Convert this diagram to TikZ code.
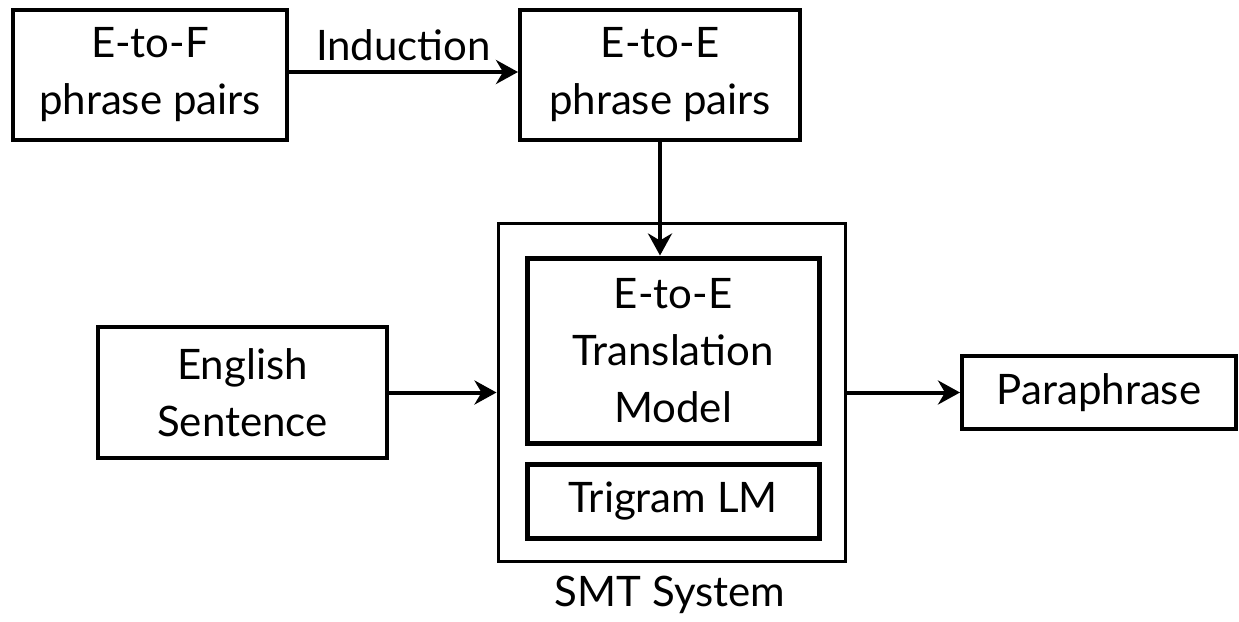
\documentclass[tikz,border=0pt]{standalone}
\usepackage{fontspec}
\setmainfont{Lato}
\usetikzlibrary{arrows.meta}
\begin{document}
\begin{tikzpicture}[x=1pt,y=-1pt,
  box/.style={draw, line width=4pt, inner sep=0pt, align=center,
    font=\fontsize{42}{57}\selectfont},
  lbl/.style={inner sep=0pt, font=\fontsize{42}{57}\selectfont},
  link/.style={line width=4pt, -{Stealth[length=22pt,width=24pt,inset=7pt]}}]
\useasboundingbox (0,0) rectangle (1239,621);
% top row: phrase tables
\node[box, minimum width=274pt, minimum height=130pt] (efp) at (150,75) {E-to-F\\phrase pairs};
\node[box, minimum width=280pt, minimum height=130pt] (eep) at (660,75) {E-to-E\\phrase pairs};
% SMT system with its two models
\node[draw, line width=3pt, minimum width=347pt, minimum height=338pt] (smt) at (671.5,392) {};
\node[box, line width=5pt, minimum width=292pt, minimum height=185pt] (tm) at (673,350.5) {E-to-E\\Translation\\Model};
\node[box, line width=5pt, minimum width=292pt, minimum height=74pt] (lm) at (673,501) {Trigram LM};
\node[lbl] (smtlbl) at (670,595) {SMT System};
% input and output
\node[box, minimum width=289pt, minimum height=131pt] (eng) at (242.5,392.5) {English\\Sentence};
\node[box, minimum width=274pt, minimum height=73pt] (para) at (1099,392.5) {Paraphrase};
% connectors
\draw[link] ([yshift=3pt]efp.east) -- node[lbl, above=9pt] (ind) {Induction} ([yshift=3pt]eep.west);
\draw[link] (eep.south) -- (eep.south |- tm.north);
\draw[link] (eng.east) -- (eng.east -| smt.west);
\draw[link] (smt.east |- para.west) -- (para.west);
\end{tikzpicture}
\end{document}
